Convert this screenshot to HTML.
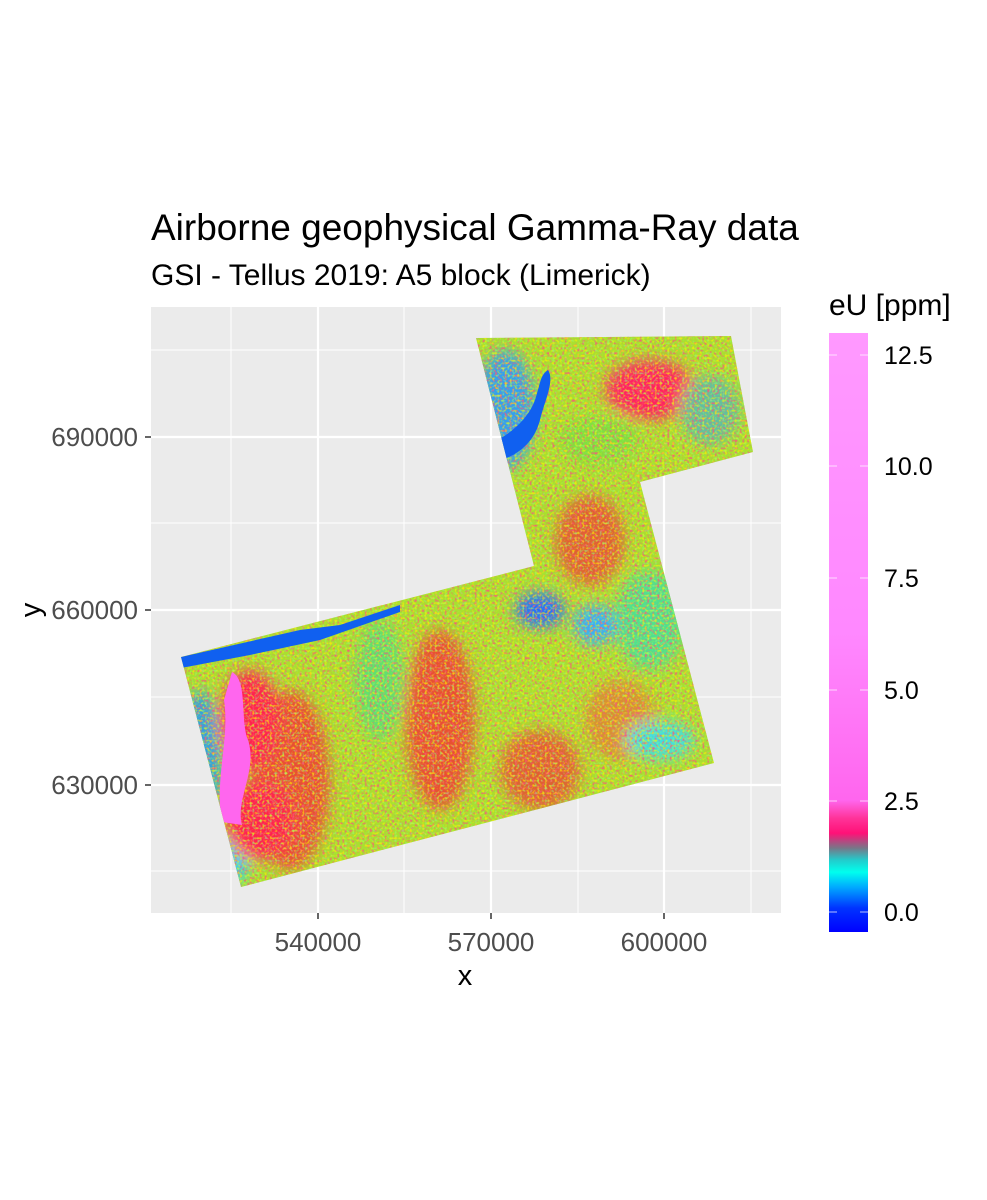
<!DOCTYPE html>
<html><head><meta charset="utf-8"><style>
html,body{margin:0;padding:0;background:#fff;}
svg{display:block;font-family:"Liberation Sans",Arial,sans-serif;}
</style></head><body>
<svg width="987" height="1200" viewBox="0 0 987 1200" xmlns="http://www.w3.org/2000/svg">
<defs>
<clipPath id="poly"><polygon points="476,338 731,336 753,452 640,482 714,763 241,887 181,657 534,566"/></clipPath>
<filter id="blur" x="-20%" y="-20%" width="140%" height="140%"><feGaussianBlur stdDeviation="7"/></filter>
<filter id="noiseR" x="0" y="0" width="100%" height="100%">
<feTurbulence type="fractalNoise" baseFrequency="0.4" numOctaves="1" seed="3"/>
<feColorMatrix type="matrix" values="0 0 0 0 0.95  0 0 0 0 0.1  0 0 0 0 0.2  4 0 0 0 -2.0"/>
</filter>
<filter id="noiseY" x="0" y="0" width="100%" height="100%">
<feTurbulence type="fractalNoise" baseFrequency="0.4" numOctaves="1" seed="8"/>
<feColorMatrix type="matrix" values="0 0 0 0 1  0 0 0 0 0.9  0 0 0 0 0  4 0 0 0 -2.0"/>
</filter>
<filter id="noiseG" x="0" y="0" width="100%" height="100%">
<feTurbulence type="fractalNoise" baseFrequency="0.4" numOctaves="1" seed="15"/>
<feColorMatrix type="matrix" values="0 0 0 0 0.3  0 0 0 0 1  0 0 0 0 0.2  4 0 0 0 -2.1"/>
</filter>
<linearGradient id="cb" x1="0" y1="1" x2="0" y2="0">
<stop offset="0" stop-color="#0000ff"/>
<stop offset="0.04" stop-color="#0033ff"/>
<stop offset="0.075" stop-color="#00aaff"/>
<stop offset="0.1" stop-color="#00ffee"/>
<stop offset="0.12" stop-color="#22cccc"/>
<stop offset="0.14" stop-color="#777788"/>
<stop offset="0.165" stop-color="#ff1177"/>
<stop offset="0.19" stop-color="#ff3399"/>
<stop offset="0.22" stop-color="#ff66ee"/>
<stop offset="0.5" stop-color="#ff88ff"/>
<stop offset="1" stop-color="#ff99ff"/>
</linearGradient>
</defs>

<text x="151" y="240" font-size="37" fill="#000">Airborne geophysical Gamma-Ray data</text>
<text x="151" y="285" font-size="30" fill="#000">GSI - Tellus 2019: A5 block (Limerick)</text>

<rect x="151" y="307" width="630" height="606" fill="#ebebeb"/>
<g stroke="#fff" stroke-width="1">
<line x1="231" y1="307" x2="231" y2="913"/><line x1="404" y1="307" x2="404" y2="913"/>
<line x1="578" y1="307" x2="578" y2="913"/><line x1="751" y1="307" x2="751" y2="913"/>
<line x1="151" y1="350" x2="781" y2="350"/><line x1="151" y1="523" x2="781" y2="523"/>
<line x1="151" y1="697" x2="781" y2="697"/><line x1="151" y1="871" x2="781" y2="871"/>
</g>
<g stroke="#fff" stroke-width="2.2">
<line x1="318" y1="307" x2="318" y2="913"/><line x1="491" y1="307" x2="491" y2="913"/>
<line x1="664" y1="307" x2="664" y2="913"/>
<line x1="151" y1="437" x2="781" y2="437"/><line x1="151" y1="610" x2="781" y2="610"/>
<line x1="151" y1="785" x2="781" y2="785"/>
</g>

<g clip-path="url(#poly)">
<rect x="170" y="330" width="600" height="570" fill="#a8e030"/>
<g filter="url(#blur)">
<ellipse cx="290" cy="780" rx="40" ry="90" fill="#e85030"/>
<ellipse cx="440" cy="720" rx="35" ry="90" fill="#e85030"/>
<ellipse cx="540" cy="770" rx="40" ry="40" fill="#e06030"/>
<ellipse cx="620" cy="720" rx="35" ry="40" fill="#d89030"/>
<ellipse cx="590" cy="540" rx="35" ry="45" fill="#e06030"/>
<ellipse cx="380" cy="680" rx="25" ry="60" fill="#60e070"/>
<ellipse cx="650" cy="620" rx="35" ry="50" fill="#50e090"/>
<ellipse cx="540" cy="610" rx="25" ry="18" fill="#2070ff"/>
<ellipse cx="595" cy="625" rx="22" ry="20" fill="#30b0ff"/>
<ellipse cx="505" cy="410" rx="30" ry="60" fill="#30a0f0"/>
<ellipse cx="650" cy="390" rx="45" ry="30" fill="#ff2060"/>
<ellipse cx="710" cy="410" rx="30" ry="35" fill="#60c0a0"/>
<ellipse cx="200" cy="760" rx="22" ry="70" fill="#30a0e0"/>
<ellipse cx="230" cy="860" rx="20" ry="25" fill="#30d0f0"/>
<ellipse cx="660" cy="740" rx="35" ry="20" fill="#40e0e0"/>
<ellipse cx="250" cy="720" rx="30" ry="50" fill="#ff2050"/>
<ellipse cx="260" cy="820" rx="35" ry="40" fill="#ff2050"/>
<ellipse cx="600" cy="440" rx="40" ry="25" fill="#80e040"/>
</g>
<rect x="170" y="330" width="600" height="570" filter="url(#noiseR)" opacity="0.85"/>
<rect x="170" y="330" width="600" height="570" filter="url(#noiseY)" opacity="0.7"/>
<rect x="170" y="330" width="600" height="570" filter="url(#noiseG)" opacity="0.6"/>
<path d="M181,657 L300,630 L340,625 L400,605 L400,612 L320,640 L250,655 L181,668 Z" fill="#1060f0"/>
<path d="M548,370 C555,380 545,400 540,420 C535,440 520,455 500,460 L490,475 L484,445 C505,440 528,420 535,400 C540,385 540,375 548,370 Z" fill="#1060f0"/>
<path d="M232,672 C248,680 240,720 248,740 C258,770 235,800 242,825 L222,822 C214,780 230,740 224,700 Z" fill="#ff66ee"/>
</g>

<g stroke="#333" stroke-width="1.5">
<line x1="145" y1="437" x2="151" y2="437"/><line x1="145" y1="610" x2="151" y2="610"/><line x1="145" y1="785" x2="151" y2="785"/>
<line x1="318" y1="913" x2="318" y2="919"/><line x1="491" y1="913" x2="491" y2="919"/><line x1="664" y1="913" x2="664" y2="919"/>
</g>
<g font-size="26" fill="#4d4d4d" text-anchor="end">
<text x="138" y="446">690000</text><text x="138" y="619">660000</text><text x="138" y="794">630000</text>
</g>
<g font-size="26" fill="#4d4d4d" text-anchor="middle">
<text x="318" y="951">540000</text><text x="491" y="951">570000</text><text x="664" y="951">600000</text>
</g>
<text x="465" y="985" font-size="29" text-anchor="middle">x</text>
<text transform="translate(40,610) rotate(-90)" font-size="29" text-anchor="middle">y</text>

<text x="829" y="315" font-size="30">eU [ppm]</text>
<rect x="829" y="333" width="39" height="599" fill="url(#cb)"/>
<g stroke="#fff" stroke-width="1" opacity="0.7">
<line x1="829" y1="355" x2="837" y2="355"/><line x1="860" y1="355" x2="868" y2="355"/>
<line x1="829" y1="466" x2="837" y2="466"/><line x1="860" y1="466" x2="868" y2="466"/>
<line x1="829" y1="578" x2="837" y2="578"/><line x1="860" y1="578" x2="868" y2="578"/>
<line x1="829" y1="690" x2="837" y2="690"/><line x1="860" y1="690" x2="868" y2="690"/>
<line x1="829" y1="801" x2="837" y2="801"/><line x1="860" y1="801" x2="868" y2="801"/>
<line x1="829" y1="912" x2="837" y2="912"/><line x1="860" y1="912" x2="868" y2="912"/>
</g>
<g font-size="25" fill="#000">
<text x="884" y="364">12.5</text><text x="884" y="475">10.0</text><text x="884" y="587">7.5</text>
<text x="884" y="699">5.0</text><text x="884" y="810">2.5</text><text x="884" y="921">0.0</text>
</g>
</svg>
</body></html>
